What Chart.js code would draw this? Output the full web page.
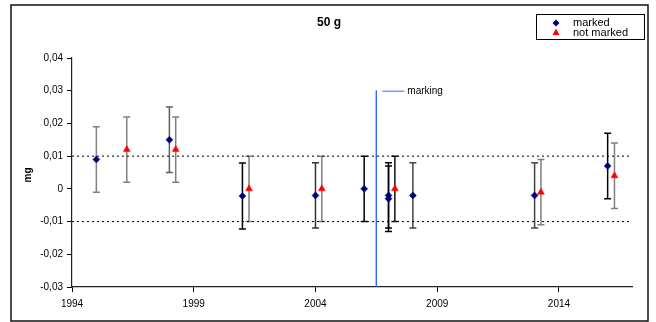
<!DOCTYPE html>
<html>
<head>
<meta charset="utf-8">
<script src="https://cdn.jsdelivr.net/npm/chart.js@4/dist/chart.umd.min.js"></script>
<style>
  html, body { margin: 0; padding: 0; background: #fff; }
  #c { display: block; }
</style>
</head>
<body>
<canvas id="c" width="656" height="322"></canvas>
<script>
// valores (mg)
const markedYears = [1995, 1998, 2001, 2004, 2006, 2007, 2007, 2008, 2013, 2016];
const markedVals = [0.009, 0.015, -0.0022, -0.002, 0, -0.002, -0.003, -0.002, -0.002, 0.007];
const markedErr = [0.01, 0.01, 0.0101, 0.01, 0.01, 0.01, 0.01, 0.01, 0.01, 0.01];

const notMarkedYears = [1996.25, 1998.26, 2001.27, 2004.26, 2007.26, 2013.26, 2016.28];
const notMarkedVals = [0.012, 0.012, 0, 0, 0, -0.001, 0.004];
const notMarkedErr = [0.01, 0.01, 0.01, 0.01, 0.01, 0.01, 0.01];

const limitVals = [0.01, -0.01];
const markingYear = 2006.5;
const markingRange = [0.03, -0.03];

const xTicks = [1994, 1999, 2004, 2009, 2014];
const yTicks = [-0.03, -0.02, -0.01, 0, 0.01, 0.02, 0.03, 0.04];

// cores das barras de erro
const markedErrColors = ['#808080', '#606060', '#000', '#333', '#000', '#000', '#000', '#444', '#444', '#000'];
const notMarkedErrColors = ['#808080', '#808080', '#808080', '#808080', '#111', '#808080', '#808080'];

const FONT = '"Liberation Sans", Arial, sans-serif';

const pts = (xs, ys) => xs.map((x, i) => ({ x: x, y: ys[i] }));

const errorBars = {
  id: 'errorBars',
  beforeDatasetsDraw(chart) {
    const ctx = chart.ctx, xs = chart.scales.x, ys = chart.scales.y;
    const sets = [
      [markedYears, markedVals, markedErr, markedErrColors],
      [notMarkedYears, notMarkedVals, notMarkedErr, notMarkedErrColors]
    ];
    ctx.save();
    ctx.lineWidth = 1.5;
    sets.forEach(([xv, yv, ev, cols]) => {
      xv.forEach((x, i) => {
        const px = xs.getPixelForValue(x);
        const top = ys.getPixelForValue(yv[i] + ev[i]);
        const bot = ys.getPixelForValue(yv[i] - ev[i]);
        ctx.strokeStyle = cols[i];
        ctx.beginPath();
        ctx.moveTo(px, top); ctx.lineTo(px, bot);
        ctx.moveTo(px - 3.5, top); ctx.lineTo(px + 3.5, top);
        ctx.moveTo(px - 3.5, bot); ctx.lineTo(px + 3.5, bot);
        ctx.stroke();
      });
    });
    ctx.restore();
  }
};

const decorations = {
  id: 'decorations',
  afterDraw(chart) {
    const ctx = chart.ctx, xs = chart.scales.x, ys = chart.scales.y;
    ctx.save();
    // moldura
    ctx.strokeStyle = '#111';
    ctx.lineWidth = 1.5;
    ctx.strokeRect(11, 5, 637, 316);
    // título
    ctx.fillStyle = '#000';
    ctx.font = 'bold 12px ' + FONT;
    ctx.textAlign = 'center';
    ctx.textBaseline = 'middle';
    ctx.fillText('50 g', 329, 23);
    // rótulo do eixo y
    ctx.save();
    ctx.translate(28, 175);
    ctx.rotate(-Math.PI / 2);
    ctx.font = 'bold 10px ' + FONT;
    ctx.fillText('mg', 0, 0);
    ctx.restore();
    // legenda
    ctx.lineWidth = 1;
    ctx.strokeStyle = '#000';
    ctx.strokeRect(536.5, 14.5, 108, 25);
    ctx.fillStyle = '#000080';
    ctx.beginPath();
    ctx.moveTo(556, 19.5); ctx.lineTo(559.5, 23); ctx.lineTo(556, 26.5); ctx.lineTo(552.5, 23);
    ctx.closePath(); ctx.fill();
    ctx.fillStyle = '#ff0000';
    ctx.beginPath();
    ctx.moveTo(556, 28.5); ctx.lineTo(559.5, 35); ctx.lineTo(552.5, 35);
    ctx.closePath(); ctx.fill();
    ctx.fillStyle = '#000';
    ctx.font = '11px ' + FONT;
    ctx.textAlign = 'left';
    ctx.fillText('marked', 573, 23);
    ctx.fillText('not marked', 573, 32.5);
    // rótulo da linha de marcação
    const mx = xs.getPixelForValue(markingYear);
    const my = ys.getPixelForValue(markingRange[0]);
    ctx.strokeStyle = '#3366ff';
    ctx.beginPath();
    ctx.moveTo(mx + 6, my + 0.5); ctx.lineTo(mx + 28, my + 0.5);
    ctx.stroke();
    ctx.font = '10px ' + FONT;
    ctx.fillText('marking', mx + 31, my + 1);
    ctx.restore();
  }
};

new Chart(document.getElementById('c'), {
  type: 'scatter',
  data: {
    datasets: [
      {
        label: 'marked',
        data: pts(markedYears, markedVals),
        pointStyle: 'rectRot',
        pointRadius: 3.5,
        borderWidth: 0.5,
        backgroundColor: '#000080',
        borderColor: '#000080'
      },
      {
        label: 'not marked',
        data: pts(notMarkedYears, notMarkedVals),
        pointStyle: 'triangle',
        pointRadius: 4,
        borderWidth: 0.5,
        backgroundColor: '#ff0000',
        borderColor: '#ff0000'
      },
      {
        type: 'line',
        label: 'upper',
        data: [{ x: 1994, y: limitVals[0] }, { x: 2017, y: limitVals[0] }],
        borderColor: '#000',
        borderWidth: 1,
        borderDash: [2, 3],
        pointRadius: 0
      },
      {
        type: 'line',
        label: 'lower',
        data: [{ x: 1994, y: limitVals[1] }, { x: 2017, y: limitVals[1] }],
        borderColor: '#000',
        borderWidth: 1,
        borderDash: [2, 3],
        pointRadius: 0
      },
      {
        type: 'line',
        label: 'marking',
        data: [{ x: markingYear, y: markingRange[0] }, { x: markingYear, y: markingRange[1] }],
        borderColor: '#3366ff',
        borderWidth: 1,
        pointRadius: 0
      }
    ]
  },
  options: {
    responsive: false,
    animation: false,
    layout: { padding: { top: 58, right: 24, bottom: 0, left: 0 } },
    plugins: {
      legend: { display: false },
      tooltip: { enabled: false },
      title: { display: false }
    },
    scales: {
      x: {
        type: 'linear',
        min: 1994,
        max: 2017,
        afterBuildTicks: s => { s.ticks = xTicks.map(v => ({ value: v })); },
        afterFit: s => { s.height = 35; },
        grid: { drawOnChartArea: false, drawTicks: true, tickLength: 5, color: '#000' },
        border: { display: true, color: '#222', width: 1.2 },
        ticks: {
          padding: 6,
          color: '#000',
          font: { family: FONT, size: 10 },
          maxRotation: 0,
          callback: v => String(v)
        }
      },
      y: {
        min: -0.03,
        max: 0.04,
        afterBuildTicks: s => { s.ticks = yTicks.map(v => ({ value: v })); },
        afterFit: s => { s.width = 72; },
        grid: { drawOnChartArea: false, drawTicks: true, tickLength: 5, color: '#000' },
        border: { display: true, color: '#222', width: 1.2 },
        ticks: {
          padding: 4,
          color: '#000',
          font: { family: FONT, size: 10 },
          callback: v => (Math.abs(v) < 1e-9 ? '0' : v.toFixed(2).replace('.', ','))
        }
      }
    }
  },
  plugins: [errorBars, decorations]
});
</script>
</body>
</html>
